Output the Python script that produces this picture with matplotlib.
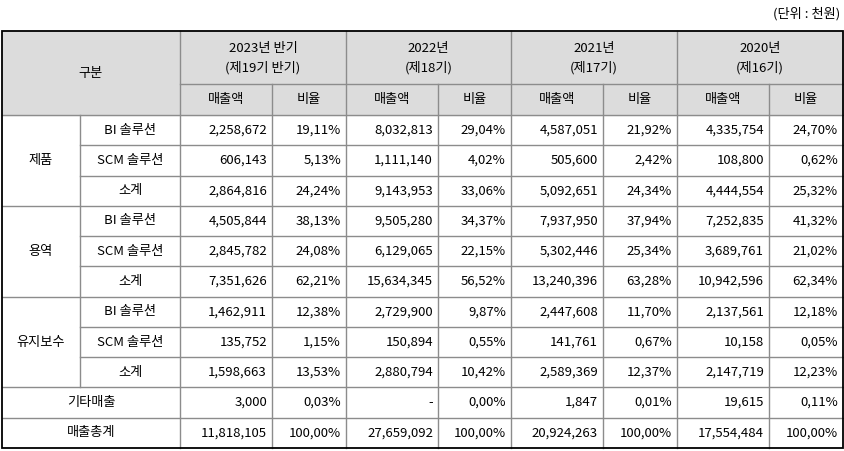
import matplotlib
matplotlib.use("Agg")
import matplotlib.pyplot as plt
from matplotlib.patches import Rectangle
from matplotlib import font_manager

names = {f.name for f in font_manager.fontManager.ttflist}
cands = [n for n in ["Noto Sans CJK KR", "Noto Sans CJK JP", "Noto Sans CJK SC", "Noto Sans CJK TC"] if n in names]
plt.rcParams["font.family"] = cands + ["DejaVu Sans"]

periods = [("2023년 반기", "(제19기 반기)"), ("2022년", "(제18기)"), ("2021년", "(제17기)"), ("2020년", "(제16기)")]
groups = ["제품", "용역", "유지보수"]
subs = ["BI 솔루션", "SCM 솔루션", "소계"]
extra_rows = ["기타매출", "매출총계"]
amounts = [
    ["2,258,672", "8,032,813", "4,587,051", "4,335,754"],
    ["606,143", "1,111,140", "505,600", "108,800"],
    ["2,864,816", "9,143,953", "5,092,651", "4,444,554"],
    ["4,505,844", "9,505,280", "7,937,950", "7,252,835"],
    ["2,845,782", "6,129,065", "5,302,446", "3,689,761"],
    ["7,351,626", "15,634,345", "13,240,396", "10,942,596"],
    ["1,462,911", "2,729,900", "2,447,608", "2,137,561"],
    ["135,752", "150,894", "141,761", "10,158"],
    ["1,598,663", "2,880,794", "2,589,369", "2,147,719"],
    ["3,000", "-", "1,847", "19,615"],
    ["11,818,105", "27,659,092", "20,924,263", "17,554,484"],
]
ratios = [
    ["19,11%", "29,04%", "21,92%", "24,70%"],
    ["5,13%", "4,02%", "2,42%", "0,62%"],
    ["24,24%", "33,06%", "24,34%", "25,32%"],
    ["38,13%", "34,37%", "37,94%", "41,32%"],
    ["24,08%", "22,15%", "25,34%", "21,02%"],
    ["62,21%", "56,52%", "63,28%", "62,34%"],
    ["12,38%", "9,87%", "11,70%", "12,18%"],
    ["1,15%", "0,55%", "0,67%", "0,05%"],
    ["13,53%", "10,42%", "12,37%", "12,23%"],
    ["0,03%", "0,00%", "0,01%", "0,11%"],
    ["100,00%", "100,00%", "100,00%", "100,00%"],
]

W, H = 845, 451
fig = plt.figure(figsize=(W / 100, H / 100), dpi=100)
ax = fig.add_axes([0, 0, 1, 1])
ax.set_xlim(0, W)
ax.set_ylim(H, 0)
ax.axis("off")

xs = [2, 80, 180, 272, 346, 438, 511, 603, 677, 769, 843]
top, h1, h2 = 31, 84, 115
rh = (448 - h2) / 11
rows_y = [h2 + i * rh for i in range(12)]
bottom = rows_y[-1]
grey = "#8c8c8c"
fs = 9.5

ax.add_patch(Rectangle((xs[0], top), xs[-1] - xs[0], h2 - top, color="#dcdcdc", zorder=0))

def hl(y, x0, x1):
    ax.plot([x0, x1], [y, y], color=grey, lw=1, zorder=1)

def vl(x, y0, y1):
    ax.plot([x, x], [y0, y1], color=grey, lw=1, zorder=1)

hl(h1, xs[2], xs[-1])
hl(h2, xs[0], xs[-1])
for i in range(2, 10, 2):
    vl(xs[i], top, bottom)
for i in range(3, 10, 2):
    vl(xs[i], h1, bottom)
vl(xs[1], h2, rows_y[9])
for r in range(1, 11):
    x0 = xs[0] if (r % 3 == 0 or r >= 9) else xs[1]
    hl(rows_y[r], x0, xs[-1])
ax.add_patch(Rectangle((xs[0], top), xs[-1] - xs[0], bottom - top, fill=False, ec="black", lw=1.3, zorder=2))

ax.text(W - 5, 14, "(단위 : 천원)", ha="right", va="center", fontsize=fs)
ax.text((xs[0] + xs[2]) / 2, (top + h2) / 2, "구분", ha="center", va="center", fontsize=fs)
for k, (a, b) in enumerate(periods):
    cx = (xs[2 + 2 * k] + xs[4 + 2 * k]) / 2
    ax.text(cx, (top + h1) / 2 - 9, a, ha="center", va="center", fontsize=fs)
    ax.text(cx, (top + h1) / 2 + 10, b, ha="center", va="center", fontsize=fs)
    ax.text((xs[2 + 2 * k] + xs[3 + 2 * k]) / 2, (h1 + h2) / 2, "매출액", ha="center", va="center", fontsize=fs)
    ax.text((xs[3 + 2 * k] + xs[4 + 2 * k]) / 2, (h1 + h2) / 2, "비율", ha="center", va="center", fontsize=fs)

for g, name in enumerate(groups):
    ax.text((xs[0] + xs[1]) / 2, (rows_y[3 * g] + rows_y[3 * g + 3]) / 2, name, ha="center", va="center", fontsize=fs)
    for s, sn in enumerate(subs):
        r = 3 * g + s
        ax.text((xs[1] + xs[2]) / 2, (rows_y[r] + rows_y[r + 1]) / 2, sn, ha="center", va="center", fontsize=fs)
for e, name in enumerate(extra_rows):
    r = 9 + e
    ax.text((xs[0] + xs[2]) / 2, (rows_y[r] + rows_y[r + 1]) / 2, name, ha="center", va="center", fontsize=fs)

for r in range(11):
    cy = (rows_y[r] + rows_y[r + 1]) / 2
    for k in range(4):
        ax.text(xs[3 + 2 * k] - 5, cy, amounts[r][k], ha="right", va="center", fontsize=fs)
        ax.text(xs[4 + 2 * k] - 5, cy, ratios[r][k], ha="right", va="center", fontsize=fs)

fig.savefig("out.png", dpi=100)
